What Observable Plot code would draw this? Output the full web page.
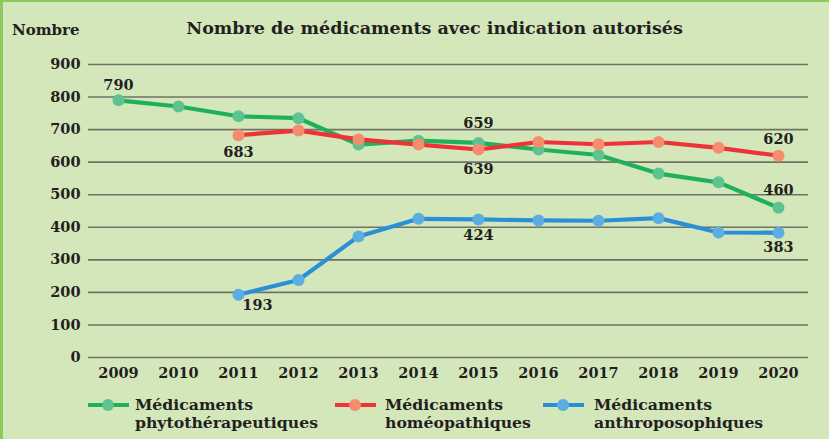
<!DOCTYPE html>
<html><head><meta charset="utf-8">
<script src="https://cdn.jsdelivr.net/npm/d3@7"></script>
<script src="https://cdn.jsdelivr.net/npm/@observablehq/plot@0.6"></script>
<style>
body{margin:0;}
#wrap{position:relative;width:829px;height:439px;background:#d4e7bb;overflow:hidden;font-family:"DejaVu Serif",serif;font-weight:bold;color:#231f20;}
#bl{position:absolute;left:0;top:0;width:3px;height:439px;background:#8dc85b;}
#bt{position:absolute;left:0;top:0;width:829px;height:2px;background:#8dc85b;}
#title{position:absolute;left:0;width:869px;top:18px;text-align:center;font-size:17.5px;}
#ylab{position:absolute;left:12px;top:21px;font-size:15px;}
#chart{position:absolute;left:0;top:40px;}
.leg{position:absolute;top:396px;font-size:15.7px;line-height:18px;}
.sw{position:absolute;top:403px;height:4px;}
.dot{position:absolute;top:399px;width:12px;height:12px;border-radius:6px;}
</style></head>
<body><div id="wrap"><div id="bl"></div><div id="bt"></div>
<div id="title">Nombre de médicaments avec indication autorisés</div>
<div id="ylab">Nombre</div>
<div id="chart"></div>
<div id="legend"></div>
</div>
<script>
const years = [2009,2010,2011,2012,2013,2014,2015,2016,2017,2018,2019,2020];
const phyto = [790,771,741,735,654,666,659,639,622,565,538,460];
const homeo = [null,null,683,697,670,654,639,662,655,662,644,620];
const anthro = [null,null,193,238,372,426,424,421,420,428,384,383];
const yTicks = [0,100,200,300,400,500,600,700,800,900];
const seriesNames = ["Médicaments\nphytothérapeutiques","Médicaments\nhoméopathiques","Médicaments\nanthroposophiques"];
const lineColors = ["#1eb15a","#ee3237","#2a8fd6"];
const dotColors = ["#5ec391","#f68b6e","#5badE2"];

const seriesVals = [phyto, homeo, anthro];
const rows = seriesVals.map(vals => years.map((y,i)=>({year:y, value:vals[i]})).filter(d=>d.value!=null));

const lbl = (data, dy, dx=0) => Plot.text(data, {x:"year", y:"value", text:d=>String(d.value), dy, dx, fontSize:14.5, fontWeight:"bold", fill:"#231f20"});
const pick = (r, yr) => r.filter(d=>d.year===yr);

const marks = [
  Plot.ruleY(yTicks, {stroke:"#6f7366", strokeWidth:1.6}),
  Plot.axisY({ticks:yTicks, tickSize:0, tickPadding:8, label:null, fontSize:14.5, fontWeight:"bold"}),
  Plot.axisX({ticks:years, tickSize:0, tickPadding:10, label:null, tickFormat:d=>String(d), fontSize:14.5, fontWeight:"bold"})
];
rows.forEach((r,i)=>{
  marks.push(Plot.line(r, {x:"year", y:"value", stroke:lineColors[i], strokeWidth:4.2, curve:"linear"}));
});
rows.forEach((r,i)=>{
  marks.push(Plot.dot(r, {x:"year", y:"value", r:6, fill:dotColors[i], stroke:"none"}));
});
marks.push(
  lbl(pick(rows[0],2009), -15),
  lbl(pick(rows[0],2015), -20),
  lbl(pick(rows[0],2020), -17),
  lbl(pick(rows[1],2011), 17),
  lbl(pick(rows[1],2015), 20),
  lbl(pick(rows[1],2020), -16),
  lbl(pick(rows[2],2011), 11, 19),
  lbl(pick(rows[2],2015), 16),
  lbl(pick(rows[2],2020), 15)
);

const chart = Plot.plot({
  width:829, height:345,
  marginTop:24, marginBottom:28, marginLeft:88, marginRight:21,
  style:{background:"transparent", fontFamily:"DejaVu Serif", color:"#231f20", overflow:"visible"},
  x:{domain:[2008.5,2020.5]},
  y:{domain:[0,900]},
  marks
});
document.getElementById("chart").appendChild(chart);

const legX = [[88,135],[335,385],[543,594]];
const leg = document.getElementById("legend");
seriesNames.forEach((n,i)=>{
  const [lx,tx]=legX[i];
  const sw=document.createElement("div"); sw.className="sw";
  sw.style.left=lx+"px"; sw.style.width="41px"; sw.style.background=lineColors[i]; leg.appendChild(sw);
  const dt=document.createElement("div"); dt.className="dot";
  dt.style.left=(lx+14)+"px"; dt.style.background=dotColors[i]; leg.appendChild(dt);
  const t=document.createElement("div"); t.className="leg";
  t.style.left=tx+"px"; t.innerHTML=n.replace("\n","<br>"); leg.appendChild(t);
});
</script>
</body></html>
